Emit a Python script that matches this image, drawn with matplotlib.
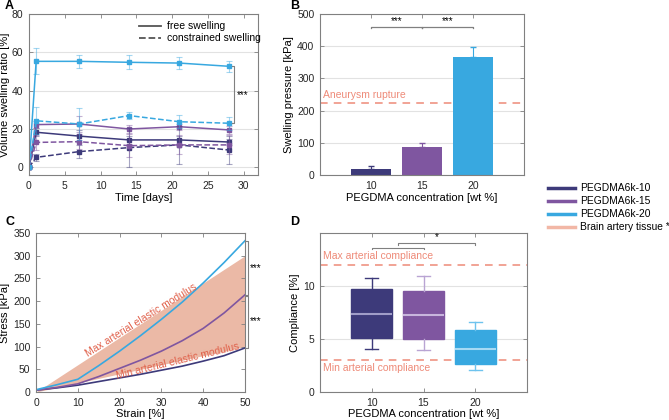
import numpy as np
import matplotlib.pyplot as plt
from matplotlib.lines import Line2D

plt.rcParams['font.family'] = ['Liberation Sans', 'DejaVu Sans']
plt.rcParams['font.size'] = 7.5

# colours
c10 = '#3D3A7A'
c15 = '#7F56A0'
c20 = '#38A8E0'
c_tissue = '#F2B7A6'
c_ref = '#EE8A78'
c_txt = '#E0604A'
grey = '#808080'

# ---- A: swelling over time
time_days = [0, 1, 7, 14, 21, 28]
free_10 = [0, 18.3, 16.3, 14.3, 14.3, 13.2]
free_10_err = [0, 2, 3, 2, 2, 1.5]
free_15 = [0, 22.3, 22.6, 20.0, 21.2, 19.5]
free_15_err = [0, 2, 4, 2, 1.5, 2]
free_20 = [0, 55.3, 55.3, 54.8, 54.4, 52.7]
free_20_err = [0, 6.8, 3.5, 3.7, 3.1, 2.8]
con_10 = [0, 5.2, 8.2, 10.3, 11.7, 9.0]
con_10_err = [0, 2, 3.5, 10, 10, 7.5]
con_15 = [0, 13.0, 13.4, 11.3, 11.7, 11.7]
con_15_err = [0, 4, 4, 6, 5, 5]
con_20 = [0, 24.3, 22.6, 27.0, 23.8, 23.0]
con_20_err = [0, 7, 8.5, 1.8, 3.5, 3.5]

# ---- B: swelling pressure
conc = [10, 15, 20]
pressure = [20, 87, 365]
pressure_err = [8, 13, 32]
aneurysm_rupture = 225

# ---- C: stress-strain
strain = [0, 5, 10, 15, 20, 25, 30, 35, 40, 45, 50]
stress_10 = [4, 9, 15, 23, 31, 39, 48, 57, 68, 80, 97]
stress_15 = [4, 10, 18, 34, 52, 70, 90, 113, 140, 174, 214]
stress_20 = [5, 16, 28, 58, 90, 124, 160, 198, 240, 285, 333]
min_modulus = 2.0   # kPa per % strain
max_modulus = 6.0

# ---- D: compliance
comp_whislo = [4.1, 4.0, 2.1]
comp_q1 = [5.1, 5.0, 2.6]
comp_med = [7.35, 7.25, 4.05]
comp_q3 = [9.7, 9.55, 5.85]
comp_whishi = [10.8, 10.95, 6.65]
max_compliance = 12
min_compliance = 3

legend_labels = ['PEGDMA6k-10', 'PEGDMA6k-15', 'PEGDMA6k-20', 'Brain artery tissue *']

fig = plt.figure(figsize=(6.69, 4.2), dpi=100)
W, H = 669, 420


def px_axes(l, t, r, b):
    return fig.add_axes([l / W, 1 - b / H, (r - l) / W, (b - t) / H])


def style(ax, grid=True):
    for s in ax.spines.values():
        s.set_color(grey)
        s.set_linewidth(0.8)
    ax.tick_params(direction='in', top=True, right=True, length=3, width=0.6,
                   color=grey, labelcolor='#262626', labelsize=7.5, pad=4)
    if grid:
        ax.yaxis.grid(True, color='#E2E2E2', linewidth=0.8)
        ax.set_axisbelow(True)


# A
axA = px_axes(29, 14, 258, 175)
style(axA)
series = [(free_10, free_10_err, c10, '-'), (free_15, free_15_err, c15, '-'),
          (free_20, free_20_err, c20, '-'), (con_10, con_10_err, c10, '--'),
          (con_15, con_15_err, c15, '--'), (con_20, con_20_err, c20, '--')]
for y, e, c, ls in series:
    axA.errorbar(time_days, y, yerr=e, color=c, ls='none', elinewidth=0.8,
                 capsize=2, capthick=0.8, alpha=0.45)
    axA.plot(time_days, y, color=c, ls=ls, lw=1.1, marker='s', ms=2.5)
axA.set_xlim(0, 32)
axA.set_ylim(-4, 80)
axA.set_xticks(range(0, 31, 5))
axA.set_yticks(range(0, 81, 20))
axA.set_xlabel('Time [days]', fontsize=8, labelpad=2)
axA.set_ylabel('Volume swelling ratio [%]', fontsize=8, labelpad=1)
axA.legend(handles=[Line2D([], [], color='#555555', lw=1.3, ls='-'),
                    Line2D([], [], color='#555555', lw=1.3, ls='--')],
           labels=['free swelling', 'constrained swelling'], frameon=False,
           loc='upper left', bbox_to_anchor=(0.46, 0.98), fontsize=7.5,
           handlelength=2.2, labelspacing=0.2, handletextpad=0.5, borderaxespad=0)
axA.plot([28.3, 28.6, 28.6, 28.3], [free_20[-1], free_20[-1], con_20[-1], con_20[-1]],
         color=grey, lw=0.8, clip_on=False)
axA.text(29.9, 37.5, '***', ha='center', va='center', fontsize=7)

# B
axB = px_axes(320, 14, 524, 175)
style(axB)
axB.bar(conc, pressure, width=4, color=[c10, c15, c20], zorder=2)
for x, p, e, c in zip(conc, pressure, pressure_err, [c10, c15, c20]):
    axB.errorbar(x, p, yerr=[[0], [e]], color=c, capsize=2, elinewidth=0.8, zorder=3)
axB.axhline(aneurysm_rupture, color=c_ref, ls=(0, (5, 4)), lw=1.1, zorder=1)
axB.text(5.3, aneurysm_rupture + 8, 'Aneurysm rupture', color=c_ref, fontsize=7.5,
         va='bottom', ha='left')
for x0, x1 in [(10, 15), (15, 20)]:
    axB.plot([x0, x0, x1, x1], [455, 460, 460, 455], color=grey, lw=0.9)
    axB.text((x0 + x1) / 2, 463, '***', ha='center', va='bottom', fontsize=7)
axB.set_xlim(5, 25)
axB.set_ylim(0, 500)
axB.set_xticks(conc)
axB.set_yticks(range(0, 501, 100))
axB.set_xlabel('PEGDMA concentration [wt %]', fontsize=8, labelpad=2)
axB.set_ylabel('Swelling pressure [kPa]', fontsize=8, labelpad=2)

# C
axC = px_axes(36, 233, 245, 392)
style(axC, grid=False)
s = np.array(strain, dtype=float)
axC.fill_between(s, min_modulus * s, max_modulus * s, color='#EBB9A6', lw=0)
axC.plot(strain, stress_10, color=c10, lw=1.2)
axC.plot(strain, stress_15, color=c15, lw=1.2)
axC.plot(strain, stress_20, color=c20, lw=1.2)
axC.text(25.2, 158, 'Max arterial elastic modulus', rotation=32, color=c_txt,
         ha='center', va='center', fontsize=7.5, rotation_mode='anchor')
axC.text(34, 67, 'Min arterial elastic modulus', rotation=13.7, color=c_txt,
         ha='center', va='center', fontsize=7.5, rotation_mode='anchor')
axC.plot([50.2, 50.8, 50.8, 50.2], [stress_20[-1], stress_20[-1], stress_15[-1], stress_15[-1]],
         color=grey, lw=0.8, clip_on=False)
axC.plot([50.2, 50.8, 50.8, 50.2], [stress_15[-1] - 3, stress_15[-1] - 3, stress_10[-1], stress_10[-1]],
         color=grey, lw=0.8, clip_on=False)
axC.text(51.2, (stress_20[-1] + stress_15[-1]) / 2, '***', va='center', ha='left', fontsize=7)
axC.text(51.2, (stress_15[-1] + stress_10[-1]) / 2, '***', va='center', ha='left', fontsize=7)
axC.set_xlim(0, 50)
axC.set_ylim(0, 350)
axC.set_xticks(range(0, 51, 10))
axC.set_yticks(range(0, 351, 50))
axC.set_xlabel('Strain [%]', fontsize=8, labelpad=1)
axC.set_ylabel('Stress [kPa]', fontsize=8, labelpad=2)

# D
axD = px_axes(320, 233, 527, 392)
style(axD)
stats = [dict(whislo=a, q1=b, med=c, q3=d, whishi=e)
         for a, b, c, d, e in zip(comp_whislo, comp_q1, comp_med, comp_q3, comp_whishi)]
box_cols = [c10, c15, c20]
whisk_cols = [c10, '#B9A4D3', '#6EC3EE']
med_cols = ['#A09DC8', '#C8B5DD', '#A6DAF4']
bp = axD.bxp(stats, positions=conc, widths=4, showfliers=False, patch_artist=True,
             capwidths=1.3)
for i in range(3):
    bp['boxes'][i].set(facecolor=box_cols[i], edgecolor=box_cols[i], zorder=2)
    bp['medians'][i].set(color=med_cols[i], lw=1.5, zorder=3)
    for w in bp['whiskers'][2 * i:2 * i + 2] + bp['caps'][2 * i:2 * i + 2]:
        w.set(color=whisk_cols[i], lw=1.0)
axD.axhline(max_compliance, color=c_ref, ls=(0, (5, 4)), lw=1.1, zorder=1)
axD.axhline(min_compliance, color=c_ref, ls=(0, (5, 4)), lw=1.1, zorder=1)
axD.text(5.3, max_compliance + 0.35, 'Max arterial compliance', color=c_ref,
         fontsize=7.5, va='bottom')
axD.text(5.3, min_compliance - 0.3, 'Min arterial compliance', color=c_ref,
         fontsize=7.5, va='top')
axD.plot([10, 10, 15, 15], [13.45, 13.6, 13.6, 13.45], color=grey, lw=0.8)
axD.plot([12.5, 12.5, 20, 20], [13.9, 14.05, 14.05, 13.9], color=grey, lw=0.8)
axD.text(16.25, 14.1, '*', ha='center', va='bottom', fontsize=7)
axD.set_xlim(5, 25)
axD.set_ylim(0, 15)
axD.set_xticks(conc)
axD.set_xticklabels([str(c) for c in conc])
axD.set_yticks([0, 5, 10])
axD.set_xlabel('PEGDMA concentration [wt %]', fontsize=8, labelpad=1)
axD.set_ylabel('Compliance [%]', fontsize=8, labelpad=2)

# shared legend
handles = [Line2D([], [], color=c, lw=2.5) for c in [c10, c15, c20, c_tissue]]
fig.legend(handles, legend_labels, loc='upper left', frameon=False, fontsize=7.4,
           bbox_to_anchor=(544 / W, 1 - 179 / H), handlelength=2.6,
           labelspacing=0.3, handletextpad=0.5, borderaxespad=0)

# panel letters
for lbl, x, y in [('A', 5, 6), ('B', 290, 6), ('C', 6, 222), ('D', 290, 222)]:
    fig.text(x / W, 1 - y / H, lbl, fontsize=9, fontweight='bold', va='center')

fig.savefig('out.png', dpi=100)
